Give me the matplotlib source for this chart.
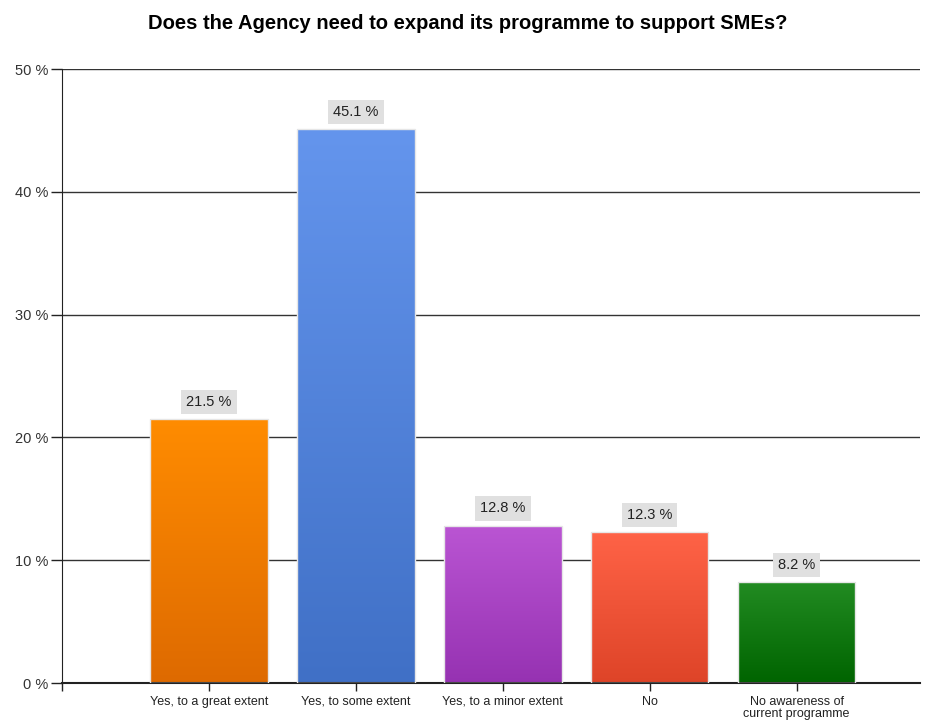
import numpy as np
import matplotlib
matplotlib.use('Agg')
import matplotlib.pyplot as plt
from matplotlib.colors import LinearSegmentedColormap

plt.rcParams['font.family'] = ['Liberation Sans', 'DejaVu Sans']

# Данные
categories = ['Yes, to a great extent', 'Yes, to some extent', 'Yes, to a minor extent',
              'No', 'No awareness of\ncurrent programme']
values = [21.5, 45.1, 12.8, 12.3, 8.2]
top_colors = ['#FF8C00', '#6495ED', '#BA55D3', '#FF6347', '#228B22']
bottom_colors = ['#DE6A00', '#4070C6', '#9632B2', '#DE4428', '#006400']

fig = plt.figure(figsize=(9.35, 7.22), dpi=100)
ax = fig.add_axes([0.0663, 0.054, 0.9177, 0.8504])

x = np.arange(1, len(values) + 1)
bars = ax.bar(x, values, width=0.8, color='none', edgecolor='#E6E6E6', linewidth=1, zorder=3)

# Градиентная заливка столбцов
grad = np.linspace(1, 0, 256).reshape(-1, 1)
for b, c_top, c_bot in zip(bars, top_colors, bottom_colors):
    cmap = LinearSegmentedColormap.from_list('g', [c_bot, c_top])
    x0, y0 = b.get_x(), b.get_y()
    im = ax.imshow(grad, cmap=cmap, aspect='auto', zorder=2,
                   extent=(x0, x0 + b.get_width(), y0, y0 + b.get_height()))
    im.set_clip_path(b)

# Подписи значений
for xi, v in zip(x, values):
    ax.annotate(f'{v} %', (xi, v), xytext=(0, 12.5), textcoords='offset points',
                ha='center', va='center', fontsize=10.5, color='#222222',
                bbox=dict(boxstyle='square,pad=0.35', fc='#E0E0E0', ec='none'))

ax.set_xlim(0, 5.84)
ax.set_ylim(0, 50)
ax.set_yticks(range(0, 51, 10))
ax.set_yticklabels([f'{t} %' for t in range(0, 51, 10)], fontsize=10.5, color='#333333')
ax.set_xticks(x)
ax.set_xticks([0], minor=True)
ax.set_xticklabels(categories, fontsize=9, color='#222222', linespacing=1.0)
ax.tick_params(axis='y', length=8, width=1, color='#222222', pad=2)
ax.tick_params(axis='x', which='both', length=6, width=1, color='#222222', pad=3)
ax.grid(axis='y', color='#333333', linewidth=1, zorder=1)
ax.set_axisbelow(True)
for s in ['top', 'right']:
    ax.spines[s].set_visible(False)
ax.spines['left'].set_color('#222222')
ax.spines['bottom'].set_color('#222222')
ax.spines['bottom'].set_linewidth(1.5)

fig.text(0.5, 0.968, 'Does the Agency need to expand its programme to support SMEs?',
         ha='center', va='center', fontsize=14.5, fontweight='bold')

fig.savefig('out.png', dpi=100)
